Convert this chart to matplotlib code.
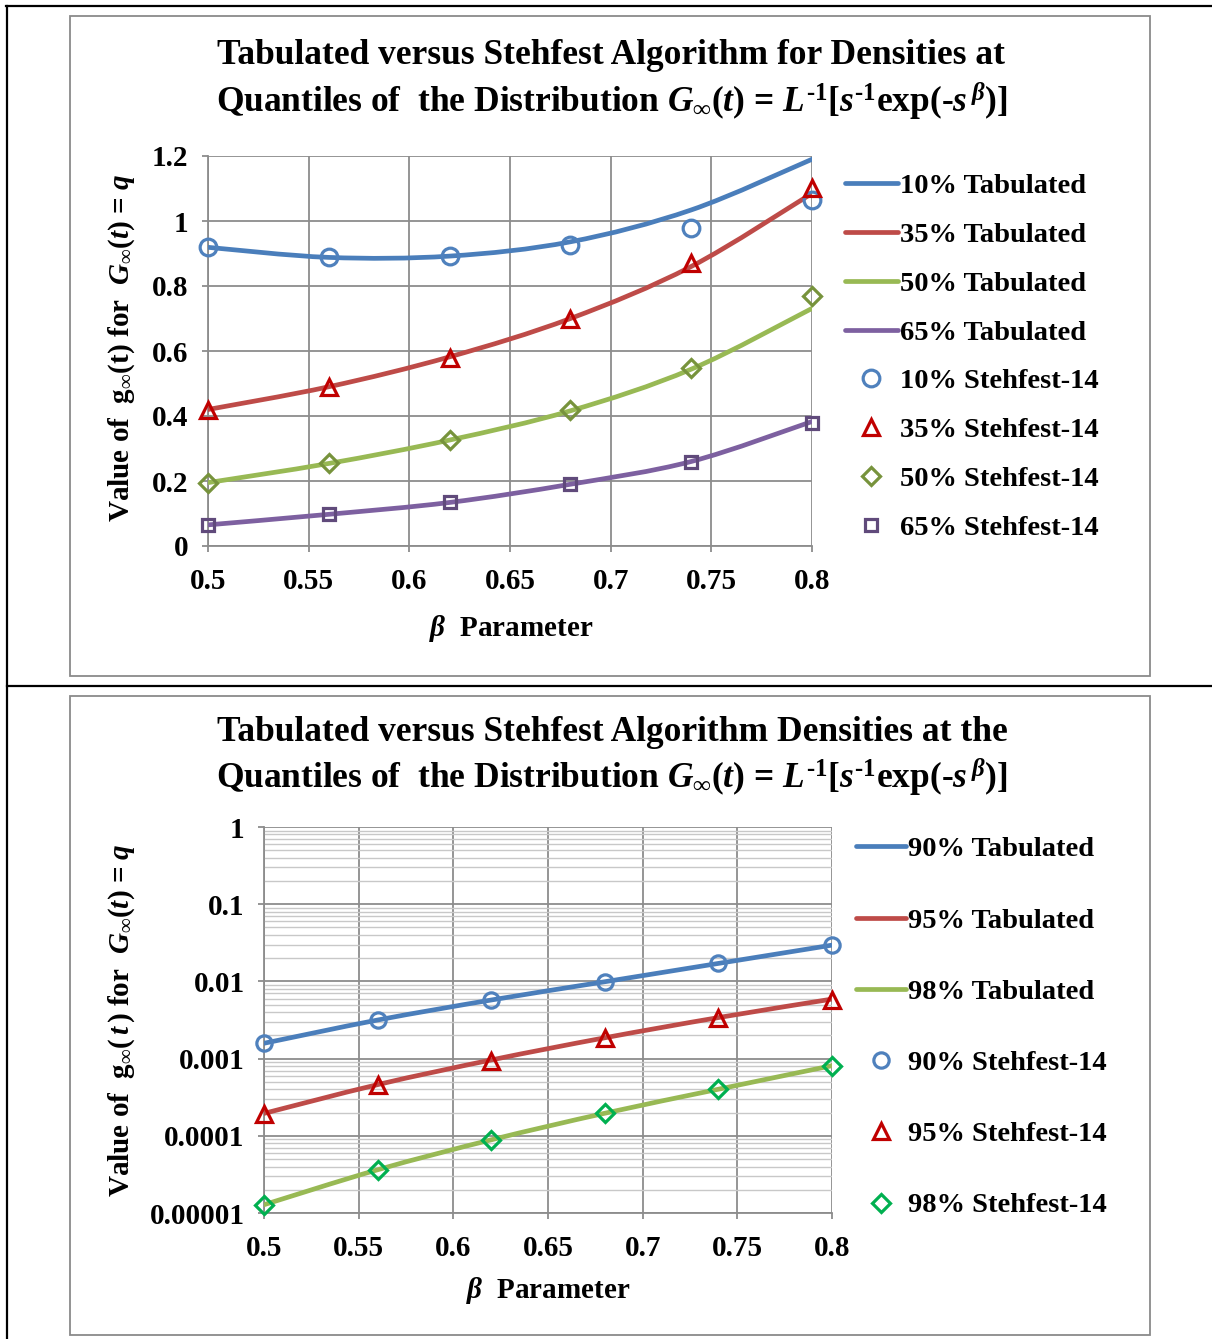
import matplotlib
matplotlib.use("Agg")
import matplotlib.pyplot as plt
import numpy as np
from matplotlib.path import Path
from matplotlib.patches import PathPatch, Rectangle
from matplotlib.lines import Line2D
from matplotlib.ticker import FixedLocator, FixedFormatter, FuncFormatter, LogLocator, NullFormatter

plt.rcParams['font.family'] = 'Liberation Serif'
plt.rcParams['font.weight'] = 'bold'
plt.rcParams['mathtext.fontset'] = 'custom'
plt.rcParams['mathtext.rm'] = 'Liberation Serif:bold'
plt.rcParams['mathtext.it'] = 'Liberation Serif:italic:bold'
plt.rcParams['mathtext.bf'] = 'Liberation Serif:bold'

beta = [0.5, 0.56, 0.62, 0.68, 0.74, 0.8]

# upper chart: lower quantiles (linear scale)
tab_10 = [0.919, 0.888, 0.892, 0.936, 1.034, 1.19]
tab_35 = [0.42, 0.49, 0.582, 0.70, 0.86, 1.085]
tab_50 = [0.195, 0.254, 0.326, 0.416, 0.544, 0.731]
tab_65 = [0.065, 0.0975, 0.134, 0.19, 0.26, 0.383]
steh_10 = [0.92, 0.889, 0.892, 0.926, 0.978, 1.065]
steh_35 = [0.42, 0.49, 0.58, 0.70, 0.87, 1.10]
steh_50 = [0.195, 0.254, 0.325, 0.417, 0.547, 0.769]
steh_65 = [0.066, 0.098, 0.136, 0.19, 0.26, 0.38]

# lower chart: upper quantiles (log scale)
tab_90 = [0.00158, 0.00316, 0.00574, 0.0099, 0.0171, 0.0295]
tab_95 = [0.000195, 0.00046, 0.00096, 0.00186, 0.0034, 0.0059]
tab_98 = [0.0000128, 0.0000363, 0.0000887, 0.000196, 0.000401, 0.00081]
steh_90 = [0.00158, 0.00316, 0.00574, 0.0099, 0.0171, 0.0295]
steh_95 = [0.000192, 0.000457, 0.00094, 0.00183, 0.00332, 0.00574]
steh_98 = [0.0000128, 0.0000363, 0.0000887, 0.000196, 0.000401, 0.00081]

xticks = [0.5, 0.55, 0.6, 0.65, 0.7, 0.75, 0.8]
log_ticks = [1e-5, 1e-4, 1e-3, 1e-2, 1e-1, 1]
log_labels = ['0.00001', '0.0001', '0.001', '0.01', '0.1', '1']

c_blue, c_red, c_green, c_purple = '#4A7EBB', '#BE4B48', '#98B954', '#7D60A0'
m_blue, m_red, m_green, m_green2, m_purple = '#4F81BD', '#C00000', '#77933C', '#00B050', '#604A7B'
grid_c = '#8C8C8C'

TITLE_FS = 25.5
LAB_FS = 21
TICK_FS = 21
LEG_FS = 20.5

W, H = 1212, 1339
fig = plt.figure(figsize=(W / 100, H / 100), dpi=100)


def fx(px):
    return px / W


def fy(py):
    return 1 - py / H


def smooth(ax, x, y, color, log=False):
    # Catmull-Rom style cubic Bezier through the points (like a smoothed line)
    x = np.asarray(x, float)
    y = np.log10(y) if log else np.asarray(y, float)
    n = len(x)
    verts = [(x[0], y[0])]
    codes = [Path.MOVETO]
    for i in range(n - 1):
        a, b = max(i - 1, 0), min(i + 2, n - 1)
        c1 = (x[i] + (x[i + 1] - x[a]) / 6, y[i] + (y[i + 1] - y[a]) / 6)
        c2 = (x[i + 1] - (x[b] - x[i]) / 6, y[i + 1] - (y[b] - y[i]) / 6)
        verts += [c1, c2, (x[i + 1], y[i + 1])]
        codes += [Path.CURVE4] * 3
    verts = np.array(verts)
    if log:
        verts[:, 1] = 10 ** verts[:, 1]
    ax.add_patch(PathPatch(Path(verts, codes), fill=False, edgecolor=color,
                           lw=3.4, capstyle='round', transform=ax.transData, zorder=3))


def style_axes(ax):
    ax.set_xlim(0.5, 0.8)
    ax.xaxis.set_major_locator(FixedLocator(xticks))
    ax.xaxis.set_major_formatter(FuncFormatter(lambda v, p: '%g' % v))
    for s in ['top', 'right']:
        ax.spines[s].set_visible(False)
    for s in ['left', 'bottom']:
        ax.spines[s].set_color(grid_c)
        ax.spines[s].set_linewidth(1.3)
    ax.tick_params(which='major', length=4, width=1.3, color=grid_c, labelsize=TICK_FS, pad=10)
    ax.tick_params(axis='x', pad=12)
    ax.tick_params(which='minor', length=0)
    ax.set_axisbelow(True)


# second line of both titles
formula = (r'Quantiles of  the Distribution $G_{\infty}(t)$ = '
           r'$L^{\mathrm{‐1}}[s^{\mathrm{‐1}}\mathrm{exp(‐}s^{\,\beta})]$')

# frames and table rules
fig.add_artist(Rectangle((fx(70), fy(676)), fx(1080), 660 / H, fill=False, ec='#8A8A8A', lw=1.3))
fig.add_artist(Rectangle((fx(70), fy(1335)), fx(1080), 639 / H, fill=False, ec='#8A8A8A', lw=1.3))
fig.add_artist(Line2D([fx(6), 1], [fy(6), fy(6)], color='black', lw=1.6))
fig.add_artist(Line2D([fx(7), fx(7)], [0, fy(6)], color='black', lw=1.6))
fig.add_artist(Line2D([fx(7), 1], [fy(686), fy(686)], color='black', lw=1.6))

# ---------- upper chart ----------
ax1 = fig.add_axes([fx(208), fy(546), fx(812 - 208), (546 - 156) / H])
style_axes(ax1)
ax1.set_ylim(0, 1.2)
ax1.yaxis.set_major_locator(FixedLocator([0, 0.2, 0.4, 0.6, 0.8, 1.0, 1.2]))
ax1.yaxis.set_major_formatter(FuncFormatter(lambda v, p: '%g' % v))
ax1.grid(True, color=grid_c, lw=1.3)

for t, c in [(tab_10, c_blue), (tab_35, c_red), (tab_50, c_green), (tab_65, c_purple)]:
    smooth(ax1, beta, t, c)
mk = dict(ls='none', mfc='none', mew=2.3, zorder=4, clip_on=False)
ax1.plot(beta, steh_10, marker='o', ms=12, mec=m_blue, **mk)
ax1.plot(beta, steh_35, marker='^', ms=12, mec=m_red, **mk)
ax1.plot(beta, steh_50, marker='D', ms=9.5, mec=m_green, **mk)
ax1.plot(beta, steh_65, marker='s', ms=8.5, mec=m_purple, **mk)

h1 = [Line2D([], [], color=c, lw=3.4, solid_capstyle='round') for c in (c_blue, c_red, c_green, c_purple)]
h1 += [Line2D([], [], ls='none', marker='o', ms=12, mfc='none', mew=2.3, mec=m_blue),
       Line2D([], [], ls='none', marker='^', ms=12, mfc='none', mew=2.3, mec=m_red),
       Line2D([], [], ls='none', marker='D', ms=9.5, mfc='none', mew=2.3, mec=m_green),
       Line2D([], [], ls='none', marker='s', ms=8.5, mfc='none', mew=2.3, mec=m_purple)]
l1 = ['10% Tabulated', '35% Tabulated', '50% Tabulated', '65% Tabulated',
      '10% Stehfest-14', '35% Stehfest-14', '50% Stehfest-14', '65% Stehfest-14']
fig.legend(h1, l1, loc='center left', bbox_to_anchor=(fx(845), fy(357)), frameon=False,
           fontsize=LEG_FS, borderpad=0, borderaxespad=0, handlelength=1.86, handletextpad=0.07,
           labelspacing=0.805, numpoints=1)

fig.text(0.504, fy(55), 'Tabulated versus Stehfest Algorithm for Densities at',
         ha='center', va='center', fontsize=TITLE_FS)
fig.text(0.505, fy(102), formula, ha='center', va='center', fontsize=TITLE_FS)
fig.text(fx(122), fy(348), r'Value of  $\mathrm{g}_{\infty}\mathrm{(t)}$ for  $G_{\infty}(t)$ = $q$',
         rotation=90, ha='center', va='center', fontsize=LAB_FS)
fig.text(fx(511), fy(628), r'$\beta$  Parameter', ha='center', va='center', fontsize=LAB_FS)

# ---------- lower chart ----------
ax2 = fig.add_axes([fx(264), fy(1213), fx(832 - 264), (1213 - 827) / H])
style_axes(ax2)
ax2.set_yscale('log')
ax2.set_ylim(1e-5, 1)
ax2.yaxis.set_major_locator(FixedLocator(log_ticks))
ax2.yaxis.set_major_formatter(FixedFormatter(log_labels))
ax2.yaxis.set_minor_locator(LogLocator(base=10, subs=np.arange(2, 10)))
ax2.yaxis.set_minor_formatter(NullFormatter())
ax2.grid(True, which='major', color=grid_c, lw=1.3)
ax2.grid(True, which='minor', axis='y', color='#C8C8C8', lw=1.0)

for t, c in [(tab_90, c_blue), (tab_95, c_red), (tab_98, c_green)]:
    smooth(ax2, beta, t, c, log=True)
ax2.plot(beta, steh_90, marker='o', ms=11, mec=m_blue, **mk)
ax2.plot(beta, steh_95, marker='^', ms=11, mec=m_red, **mk)
ax2.plot(beta, steh_98, marker='D', ms=9, mec=m_green2, **mk)

h2 = [Line2D([], [], color=c, lw=3.4, solid_capstyle='round') for c in (c_blue, c_red, c_green)]
h2 += [Line2D([], [], ls='none', marker='o', ms=11, mfc='none', mew=2.3, mec=m_blue),
       Line2D([], [], ls='none', marker='^', ms=11, mfc='none', mew=2.3, mec=m_red),
       Line2D([], [], ls='none', marker='D', ms=9, mfc='none', mew=2.3, mec=m_green2)]
l2 = ['90% Tabulated', '95% Tabulated', '98% Tabulated',
      '90% Stehfest-14', '95% Stehfest-14', '98% Stehfest-14']
fig.legend(h2, l2, loc='center left', bbox_to_anchor=(fx(856), fy(1027.5)), frameon=False,
           fontsize=LEG_FS, borderpad=0, borderaxespad=0, handlelength=1.75, handletextpad=0.07,
           labelspacing=1.59, numpoints=1)

fig.text(0.505, fy(733), 'Tabulated versus Stehfest Algorithm Densities at the',
         ha='center', va='center', fontsize=TITLE_FS)
fig.text(0.505, fy(778), formula, ha='center', va='center', fontsize=TITLE_FS)
fig.text(fx(122), fy(1020), r'Value of  $\mathrm{g}_{\infty}\mathrm{(}\,t\,\mathrm{)}$ for  $G_{\infty}(t)$ = $q$',
         rotation=90, ha='center', va='center', fontsize=LAB_FS)
fig.text(fx(548), fy(1290), r'$\beta$  Parameter', ha='center', va='center', fontsize=LAB_FS)

fig.savefig('out.png', dpi=100)
